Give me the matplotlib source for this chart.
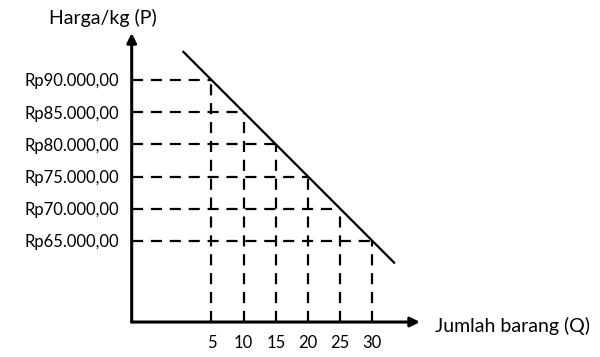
import matplotlib.pyplot as plt

plt.rcParams['font.family'] = ['Lato', 'DejaVu Sans']

# data (price in thousands of Rp)
qty = [5, 10, 15, 20, 25, 30]
price = [90, 85, 80, 75, 70, 65]
demand_q = [0.5, 33.5]
demand_p = [94.5, 61.5]
price_labels = [f"Rp{p}.000,00" for p in price]
qty_labels = [str(q) for q in qty]

fig = plt.figure(figsize=(6, 3.57), dpi=100)
ax = fig.add_axes([0.2195, 0.098, 0.4805, 0.8096])
ax.set_xlim(-7.4, 37.4)
ax.set_ylim(52.4, 97.3)

# demand curve
ax.plot(demand_q, demand_p, color='black', lw=1.6, solid_capstyle='butt')

# guide lines from each point to both axes
for q, p in zip(qty, price):
    ax.plot([-7.4, q], [p, p], color='black', lw=1.6, dashes=(5, 3.5))
    ax.plot([q, q], [52.4, p], color='black', lw=1.6, dashes=(5, 3.5))

# axes with arrows
for s in ax.spines.values():
    s.set_visible(False)
ax.annotate('', xy=(1.0, 0), xytext=(0, 0), xycoords='axes fraction',
            arrowprops=dict(arrowstyle='-|>', color='black', lw=2.2,
                            mutation_scale=14, shrinkA=0, shrinkB=0))
ax.annotate('', xy=(0, 1.0), xytext=(0, 0), xycoords='axes fraction',
            arrowprops=dict(arrowstyle='-|>', color='black', lw=2.2,
                            mutation_scale=14, shrinkA=0, shrinkB=0))

ax.set_yticks(price)
ax.set_yticklabels(price_labels, fontsize=12)
ax.set_xticks(qty)
ax.set_xticklabels(qty_labels, fontsize=12)
ax.tick_params(axis='y', length=0, pad=9)
ax.tick_params(axis='x', length=0, pad=9)

fig.text(103 / 600, 1 - 18 / 357, 'Harga/kg (P)', fontsize=14,
         ha='center', va='center')
fig.text(435 / 600, 1 - 326 / 357, 'Jumlah barang (Q)', fontsize=14,
         ha='left', va='center')

fig.savefig('out.png', dpi=100, facecolor='white')
